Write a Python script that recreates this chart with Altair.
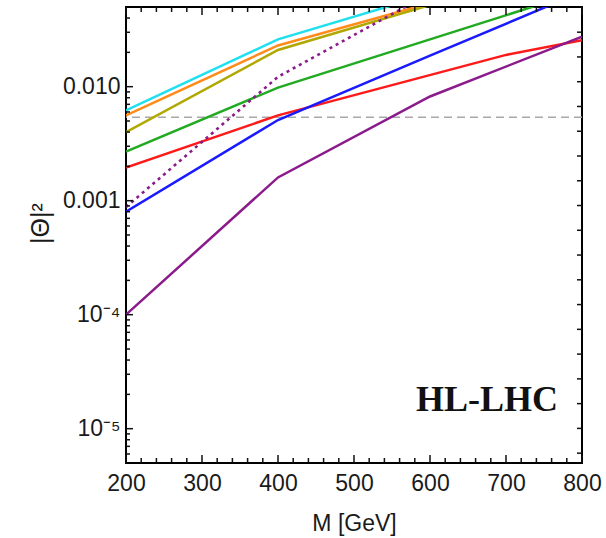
import altair as alt
import pandas as pd

# ---- data ----
series_names = ["cyan", "orange", "olive", "green", "red", "blue", "purple"]
M_cyan = [200, 400, 600]
th_cyan = [6.2e-3, 0.026, 0.065]
M_orange = [200, 400, 600]
th_orange = [5.6e-3, 0.023, 0.054]
M_olive = [200, 400, 600]
th_olive = [4.0e-3, 0.021, 0.052]
M_green = [200, 400, 600, 800]
th_green = [2.7e-3, 0.0098, 0.026, 0.069]
M_red = [200, 400, 700, 800]
th_red = [1.95e-3, 5.6e-3, 0.019, 0.0255]
M_blue = [200, 400, 600, 800]
th_blue = [8.0e-4, 5.1e-3, 0.0187, 0.068]
M_purple = [200, 400, 600, 800]
th_purple = [1.0e-4, 1.6e-3, 8.2e-3, 0.0275]
M_dotted = [200, 400, 600]
th_dotted = [8.8e-4, 0.0122, 0.066]
dashed_level = [5.4e-3]
label_text = ["HL-LHC"]

series_colors = ["#20E0EE", "#FF8C1A", "#B0A800", "#22AA22", "#FF1A1A", "#1A1AFF", "#8B1A8B"]

# frame tick positions
x_major = [200, 300, 400, 500, 600, 700, 800]
x_minor = [m for m in range(200, 801, 20) if m % 100 != 0]
y_major = [1e-5, 1e-4, 1e-3, 1e-2]
y_minor = [k * 10.0 ** e for e in range(-6, -1) for k in range(2, 10)
           if 5e-6 <= k * 10.0 ** e < 0.05]
# right frame: evenly spaced ticks (equal ratio ~1.649 on the log axis)
right_ticks = [6.1e-6 * 1.649 ** k for k in range(18)]

M_domain = [200, 800]
th_domain = [5e-6, 0.05]
W = 456
H = 456

rows = []
for name, Ms, ths in [("cyan", M_cyan, th_cyan), ("orange", M_orange, th_orange),
                      ("olive", M_olive, th_olive), ("green", M_green, th_green),
                      ("red", M_red, th_red), ("blue", M_blue, th_blue),
                      ("purple", M_purple, th_purple)]:
    for m, t in zip(Ms, ths):
        rows.append({"M": m, "th": t, "series": name})
lines_df = pd.DataFrame(rows)
dotted_df = pd.DataFrame({"M": M_dotted, "th": th_dotted})
dash_df = pd.DataFrame({"th": dashed_level})
label_df = pd.DataFrame({"label": label_text})

FONT = "Liberation Sans"
TXT = "#1a1a1a"
xs = alt.Scale(domain=M_domain, nice=False, zero=False)
ys = alt.Scale(type="log", domain=th_domain, nice=False)

x_axis = alt.Axis(orient="bottom", values=x_major, format="d", ticks=False, domain=False, grid=False,
                  labelPadding=9, labelFont=FONT, labelFontSize=23, labelColor=TXT,
                  labelFlush=False, labelOverlap=False,
                  title="M [GeV]", titleFont=FONT, titleFontSize=23, titleFontWeight="normal",
                  titleColor=TXT, titlePadding=17)
y_axis = alt.Axis(orient="left", values=y_major, ticks=False, domain=False, grid=False,
                  labelPadding=6, labelFont=FONT, labelFontSize=23, labelColor=TXT,
                  labelFlush=False, labelOverlap=False, labelBaseline="middle",
                  labelExpr="datum.value > 0.005 ? '0.010' : datum.value > 0.0005 ? '0.001' : datum.value > 0.00005 ? '10⁻⁴' : '10⁻⁵'",
                  title="|Θ|²", titleFont=FONT, titleFontSize=25, titleFontWeight="normal",
                  titleColor=TXT, titlePadding=9, titleY=216)
X = alt.X("M:Q", scale=xs, axis=x_axis)
Y = alt.Y("th:Q", scale=ys, axis=y_axis)

dashed = alt.Chart(dash_df).mark_rule(strokeDash=[8, 5], color="#A8A8A8", strokeWidth=1.5).encode(y=Y)
lines = alt.Chart(lines_df).mark_line(strokeWidth=2.5, clip=True).encode(
    x=X, y=Y,
    color=alt.Color("series:N", scale=alt.Scale(domain=series_names, range=series_colors), legend=None),
    detail="series:N",
)
dotted = alt.Chart(dotted_df).mark_line(strokeWidth=2.6, strokeDash=[3, 4], color="#8B1A8B", clip=True).encode(
    x=X, y=Y)
label = alt.Chart(label_df).mark_text(font="Liberation Serif", fontWeight="bold", fontSize=36,
                                      color="#111111", align="center", baseline="alphabetic").encode(
    x=alt.value(361), y=alt.value(404), text="label:N",
)

# ---- frame ticks (inward): one small layer per tick value, placed through the scales ----
def xtick(v, y0, y1):
    return alt.Chart(pd.DataFrame({"M": [v]})).mark_rule(color="#111111", strokeWidth=1.5).encode(
        x=X, y=alt.value(y0), y2=alt.value(y1))

def ytick(v, x0, x1):
    return alt.Chart(pd.DataFrame({"th": [v]})).mark_rule(color="#111111", strokeWidth=1.5).encode(
        y=Y, x=alt.value(x0), x2=alt.value(x1))

tick_layers = []
for v in x_major:
    tick_layers.append(xtick(v, H - 8, H))
    tick_layers.append(xtick(v, 0, 8))
for v in x_minor:
    tick_layers.append(xtick(v, H - 5, H))
    tick_layers.append(xtick(v, 0, 5))
for v in y_major:
    tick_layers.append(ytick(v, 0, 7))
for v in y_minor:
    tick_layers.append(ytick(v, 0, 4))
for v in right_ticks:
    tick_layers.append(ytick(v, W - 5, W))

chart = alt.layer(dashed, lines, dotted, *tick_layers, label).properties(
    width=W, height=H,
    autosize=alt.AutoSizeParams(type="none"),
    padding={"left": 126, "top": 7, "right": 24, "bottom": 75},
).configure_view(stroke="black", strokeWidth=2)

chart.save("out.html", embed_options={"renderer": "svg", "actions": False})
